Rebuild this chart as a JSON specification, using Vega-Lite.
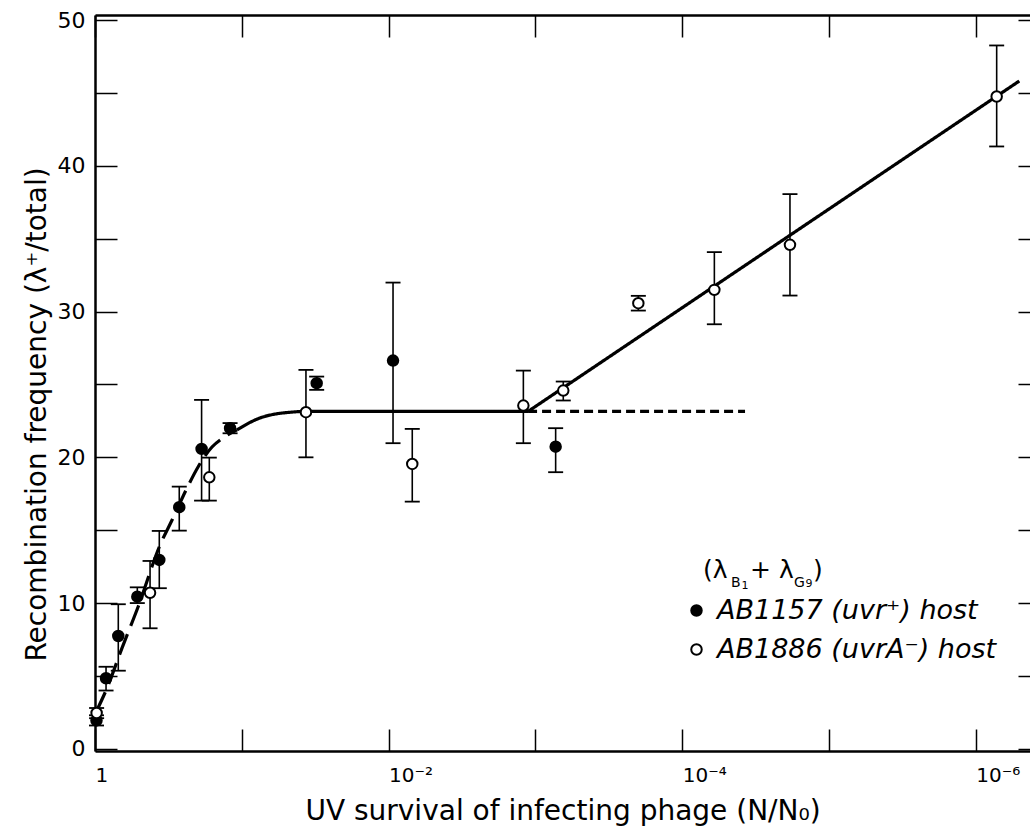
{
  "$schema": "https://vega.github.io/schema/vega-lite/v6.json",
  "width": 935,
  "height": 736,
  "autosize": {"type": "none"},
  "padding": {"left": 95, "top": 15, "right": 0, "bottom": 87},
  "background": "white",
  "config": {"view": {"stroke": null}, "font": "DejaVu Sans"},
  "datasets": {
    "pts": [
      {"s": 0.977, "r": 1.95, "lo": 1.6, "hi": 2.3, "host": "AB1157 (uvr⁺) host"},
      {"s": 0.841, "r": 4.84, "lo": 4.0, "hi": 5.63, "host": "AB1157 (uvr⁺) host"},
      {"s": 0.694, "r": 7.74, "lo": 5.36, "hi": 9.92, "host": "AB1157 (uvr⁺) host"},
      {"s": 0.515, "r": 10.44, "lo": 10.0, "hi": 11.08, "host": "AB1157 (uvr⁺) host"},
      {"s": 0.3648, "r": 12.96, "lo": 11.02, "hi": 14.95, "host": "AB1157 (uvr⁺) host"},
      {"s": 0.2667, "r": 16.58, "lo": 14.97, "hi": 17.99, "host": "AB1157 (uvr⁺) host"},
      {"s": 0.1879, "r": 20.58, "lo": 17.03, "hi": 23.94, "host": "AB1157 (uvr⁺) host"},
      {"s": 0.1202, "r": 22.0, "lo": 21.65, "hi": 22.35, "host": "AB1157 (uvr⁺) host"},
      {"s": 0.0309, "r": 25.09, "lo": 24.63, "hi": 25.54, "host": "AB1157 (uvr⁺) host"},
      {"s": 0.00933, "r": 26.64, "lo": 20.97, "hi": 31.99, "host": "AB1157 (uvr⁺) host"},
      {"s": 0.000728, "r": 20.73, "lo": 18.98, "hi": 22.0, "host": "AB1157 (uvr⁺) host"},
      {"s": 0.975, "r": 2.46, "lo": 2.1, "hi": 2.8, "host": "AB1886 (uvrA⁻) host"},
      {"s": 0.4217, "r": 10.71, "lo": 8.27, "hi": 12.89, "host": "AB1886 (uvrA⁻) host"},
      {"s": 0.1665, "r": 18.63, "lo": 17.03, "hi": 19.98, "host": "AB1886 (uvrA⁻) host"},
      {"s": 0.03656, "r": 23.1, "lo": 20.0, "hi": 26.0, "host": "AB1886 (uvrA⁻) host"},
      {"s": 0.0069, "r": 19.55, "lo": 16.96, "hi": 21.95, "host": "AB1886 (uvrA⁻) host"},
      {"s": 0.001208, "r": 23.55, "lo": 20.97, "hi": 25.95, "host": "AB1886 (uvrA⁻) host"},
      {"s": 0.000646, "r": 24.58, "lo": 23.9, "hi": 25.2, "host": "AB1886 (uvrA⁻) host"},
      {"s": 0.000199, "r": 30.58, "lo": 30.07, "hi": 31.08, "host": "AB1886 (uvrA⁻) host"},
      {"s": 0.0000604, "r": 31.49, "lo": 29.13, "hi": 34.08, "host": "AB1886 (uvrA⁻) host"},
      {"s": 0.00001845, "r": 34.58, "lo": 31.1, "hi": 38.06, "host": "AB1886 (uvrA⁻) host"},
      {"s": 0.000000721, "r": 44.76, "lo": 41.33, "hi": 48.26, "host": "AB1886 (uvrA⁻) host"}
    ],
    "lines": [
      {"s": 0.984, "r": 2.52, "seg": "d1"},
      {"s": 0.828, "r": 4.17, "seg": "d1"},
      {"s": 0.655, "r": 6.91, "seg": "d1"},
      {"s": 0.509, "r": 9.73, "seg": "d1"},
      {"s": 0.3606, "r": 13.98, "seg": "d1"},
      {"s": 0.2985, "r": 15.7, "seg": "d1"},
      {"s": 0.236, "r": 17.9, "seg": "d1"},
      {"s": 0.1986, "r": 19.34, "seg": "d1"},
      {"s": 0.1596, "r": 20.71, "seg": "d1"},
      {"s": 0.1343, "r": 21.33, "seg": "d1"},
      {"s": 0.1079, "r": 21.88, "seg": "d1"},
      {"s": 0.1079, "r": 21.88, "seg": "s1"},
      {"s": 0.0752, "r": 22.7, "seg": "s1"},
      {"s": 0.0448, "r": 23.11, "seg": "s1"},
      {"s": 0.0366, "r": 23.15, "seg": "s1"},
      {"s": 0.001122, "r": 23.15, "seg": "s1"},
      {"s": 0.001122, "r": 23.15, "seg": "rise"},
      {"s": 0.0000005058, "r": 45.82, "seg": "rise"},
      {"s": 0.001122, "r": 23.15, "seg": "d2"},
      {"s": 0.00003733, "r": 23.15, "seg": "d2"}
    ],
    "one": [{}]
  },
  "layer": [
    {
      "data": {"name": "lines"},
      "mark": {"type": "line", "interpolate": "monotone", "strokeWidth": 3.2, "color": "black", "strokeCap": "butt"},
      "encoding": {
        "x": {"field": "s", "type": "quantitative", "scale": {"type": "log", "domain": [4.275e-7, 1], "reverse": true, "nice": false, "zero": false}, "axis": null},
        "y": {"field": "r", "type": "quantitative", "scale": {"domain": [-0.15, 50.35], "nice": false, "zero": false}, "axis": null},
        "detail": {"field": "seg", "type": "nominal"},
        "strokeDash": {"field": "seg", "type": "nominal", "scale": {"domain": ["d1", "s1", "rise", "d2"], "range": [[22, 9], [1, 0], [1, 0], [9, 5]]}, "legend": null},
        "order": {"field": "s", "sort": "descending"}
      }
    },
    {
      "data": {"name": "pts"},
      "mark": {"type": "rule", "strokeWidth": 1.6, "color": "black"},
      "encoding": {
        "x": {"field": "s", "type": "quantitative", "scale": {"type": "log", "domain": [4.275e-7, 1], "reverse": true, "nice": false, "zero": false},
              "axis": {"orient": "top", "values": [1, 0.1, 0.01, 0.001, 0.0001, 0.00001, 0.000001], "labels": false, "title": null, "grid": false, "tickSize": -22, "tickWidth": 1.5, "tickColor": "black", "domain": true, "domainColor": "black", "domainWidth": 2.5}},
        "y": {"field": "lo", "type": "quantitative", "scale": {"domain": [-0.15, 50.35], "nice": false, "zero": false},
              "axis": {"orient": "right", "values": [0, 5, 10, 15, 20, 25, 30, 35, 40, 45, 50], "labels": false, "title": null, "grid": false, "tickSize": -12, "tickWidth": 1.5, "tickColor": "black", "domain": false}},
        "y2": {"field": "hi"}
      }
    },
    {
      "data": {"name": "pts"},
      "mark": {"type": "point", "shape": "M-1,0L1,0", "size": 225, "filled": false, "stroke": "black", "strokeWidth": 1.8, "opacity": 1},
      "encoding": {
        "x": {"field": "s", "type": "quantitative", "scale": {"type": "log", "domain": [4.275e-7, 1], "reverse": true, "nice": false, "zero": false}, "axis": null},
        "y": {"field": "lo", "type": "quantitative", "scale": {"domain": [-0.15, 50.35], "nice": false, "zero": false}, "axis": null}
      }
    },
    {
      "data": {"name": "pts"},
      "mark": {"type": "point", "shape": "M-1,0L1,0", "size": 225, "filled": false, "stroke": "black", "strokeWidth": 1.8, "opacity": 1},
      "encoding": {
        "x": {"field": "s", "type": "quantitative", "scale": {"type": "log", "domain": [4.275e-7, 1], "reverse": true, "nice": false, "zero": false}, "axis": null},
        "y": {"field": "hi", "type": "quantitative", "scale": {"domain": [-0.15, 50.35], "nice": false, "zero": false}, "axis": null}
      }
    },
    {
      "data": {"name": "pts"},
      "mark": {"type": "point", "shape": "circle", "size": 110, "filled": true, "stroke": "black", "strokeWidth": 2, "opacity": 1},
      "encoding": {
        "x": {"field": "s", "type": "quantitative", "scale": {"type": "log", "domain": [4.275e-7, 1], "reverse": true, "nice": false, "zero": false},
              "axis": {"orient": "bottom", "values": [1, 0.1, 0.01, 0.001, 0.0001, 0.00001, 0.000001],
                       "labelExpr": "round(log(datum.value)/LN10) == 0 ? ' 1' : round(log(datum.value)/LN10) == -2 ? '10⁻²' : round(log(datum.value)/LN10) == -4 ? '10⁻⁴' : round(log(datum.value)/LN10) == -6 ? '10⁻⁶' : ''",
                       "labelAlign": "left", "labelDx": -12.7, "labelFont": "DejaVu Sans", "labelFontSize": 20, "labelColor": "black", "labelPadding": 36, "labelOverlap": false, "labelFlush": false, "labelBound": false,
                       "grid": false, "tickSize": -22, "tickWidth": 1.5, "tickColor": "black", "domainColor": "black", "domainWidth": 2.5,
                       "title": "UV survival of infecting phage (N/N₀)", "titleFont": "DejaVu Sans", "titleFontSize": 28, "titleFontWeight": "normal", "titleColor": "black", "titlePadding": 12}},
        "y": {"field": "r", "type": "quantitative", "scale": {"domain": [-0.15, 50.35], "nice": false, "zero": false},
              "axis": {"orient": "left", "values": [0, 5, 10, 15, 20, 25, 30, 35, 40, 45, 50],
                       "labelExpr": "datum.value % 10 == 0 ? datum.label : ''",
                       "labelFont": "DejaVu Sans", "labelFontSize": 22, "labelColor": "black", "labelPadding": 32, "labelOverlap": false, "labelFlush": false, "labelBound": false,
                       "grid": false, "tickSize": -22, "tickWidth": 1.5, "tickColor": "black", "domainColor": "black", "domainWidth": 2.5,
                       "title": "Recombination frequency (λ⁺/total)", "titleFont": "DejaVu Sans", "titleFontSize": 28, "titleFontWeight": "normal", "titleColor": "black", "titlePadding": 6, "titleY": 399}},
        "fill": {"field": "host", "type": "nominal",
                 "scale": {"domain": ["AB1157 (uvr⁺) host", "AB1886 (uvrA⁻) host"], "range": ["black", "white"]},
                 "legend": {"orient": "none", "legendX": 588, "legendY": 582, "title": null, "padding": 0,
                            "labelFont": "DejaVu Sans", "labelFontStyle": "italic", "labelFontSize": 27, "labelColor": "black", "labelOffset": 7, "labelLimit": 0, "rowPadding": 11,
                            "symbolType": "circle", "symbolSize": 110, "symbolStrokeWidth": 2, "symbolStrokeColor": "black", "symbolOpacity": 1}}
      }
    },
    {
      "data": {"name": "one"},
      "mark": {"type": "text", "text": "(λ", "fontSize": 25, "align": "left", "baseline": "alphabetic", "color": "black"},
      "encoding": {
        "x": {"datum": 0.0000721, "type": "quantitative", "scale": {"type": "log", "domain": [4.275e-7, 1], "reverse": true, "nice": false, "zero": false}, "axis": null},
        "y": {"datum": 11.7, "type": "quantitative", "scale": {"domain": [-0.15, 50.35], "nice": false, "zero": false}, "axis": null}
      }
    },
    {
      "data": {"name": "one"},
      "mark": {"type": "text", "text": "B", "fontSize": 14, "align": "left", "baseline": "alphabetic", "color": "black", "dx": 28, "dy": 9},
      "encoding": {
        "x": {"datum": 0.0000721, "type": "quantitative", "scale": {"type": "log", "domain": [4.275e-7, 1], "reverse": true, "nice": false, "zero": false}, "axis": null},
        "y": {"datum": 11.7, "type": "quantitative", "scale": {"domain": [-0.15, 50.35], "nice": false, "zero": false}, "axis": null}
      }
    },
    {
      "data": {"name": "one"},
      "mark": {"type": "text", "text": "1", "fontSize": 11, "align": "left", "baseline": "alphabetic", "color": "black", "dx": 38.5, "dy": 11},
      "encoding": {
        "x": {"datum": 0.0000721, "type": "quantitative", "scale": {"type": "log", "domain": [4.275e-7, 1], "reverse": true, "nice": false, "zero": false}, "axis": null},
        "y": {"datum": 11.7, "type": "quantitative", "scale": {"domain": [-0.15, 50.35], "nice": false, "zero": false}, "axis": null}
      }
    },
    {
      "data": {"name": "one"},
      "mark": {"type": "text", "text": "+ λ", "fontSize": 25, "align": "left", "baseline": "alphabetic", "color": "black", "dx": 47},
      "encoding": {
        "x": {"datum": 0.0000721, "type": "quantitative", "scale": {"type": "log", "domain": [4.275e-7, 1], "reverse": true, "nice": false, "zero": false}, "axis": null},
        "y": {"datum": 11.7, "type": "quantitative", "scale": {"domain": [-0.15, 50.35], "nice": false, "zero": false}, "axis": null}
      }
    },
    {
      "data": {"name": "one"},
      "mark": {"type": "text", "text": "G", "fontSize": 14, "align": "left", "baseline": "alphabetic", "color": "black", "dx": 91, "dy": 9},
      "encoding": {
        "x": {"datum": 0.0000721, "type": "quantitative", "scale": {"type": "log", "domain": [4.275e-7, 1], "reverse": true, "nice": false, "zero": false}, "axis": null},
        "y": {"datum": 11.7, "type": "quantitative", "scale": {"domain": [-0.15, 50.35], "nice": false, "zero": false}, "axis": null}
      }
    },
    {
      "data": {"name": "one"},
      "mark": {"type": "text", "text": "9", "fontSize": 11, "align": "left", "baseline": "alphabetic", "color": "black", "dx": 102.5, "dy": 9},
      "encoding": {
        "x": {"datum": 0.0000721, "type": "quantitative", "scale": {"type": "log", "domain": [4.275e-7, 1], "reverse": true, "nice": false, "zero": false}, "axis": null},
        "y": {"datum": 11.7, "type": "quantitative", "scale": {"domain": [-0.15, 50.35], "nice": false, "zero": false}, "axis": null}
      }
    },
    {
      "data": {"name": "one"},
      "mark": {"type": "text", "text": ")", "fontSize": 25, "align": "left", "baseline": "alphabetic", "color": "black", "dx": 110},
      "encoding": {
        "x": {"datum": 0.0000721, "type": "quantitative", "scale": {"type": "log", "domain": [4.275e-7, 1], "reverse": true, "nice": false, "zero": false}, "axis": null},
        "y": {"datum": 11.7, "type": "quantitative", "scale": {"domain": [-0.15, 50.35], "nice": false, "zero": false}, "axis": null}
      }
    }
  ],
  "resolve": {"axis": {"x": "independent", "y": "independent"}}
}
